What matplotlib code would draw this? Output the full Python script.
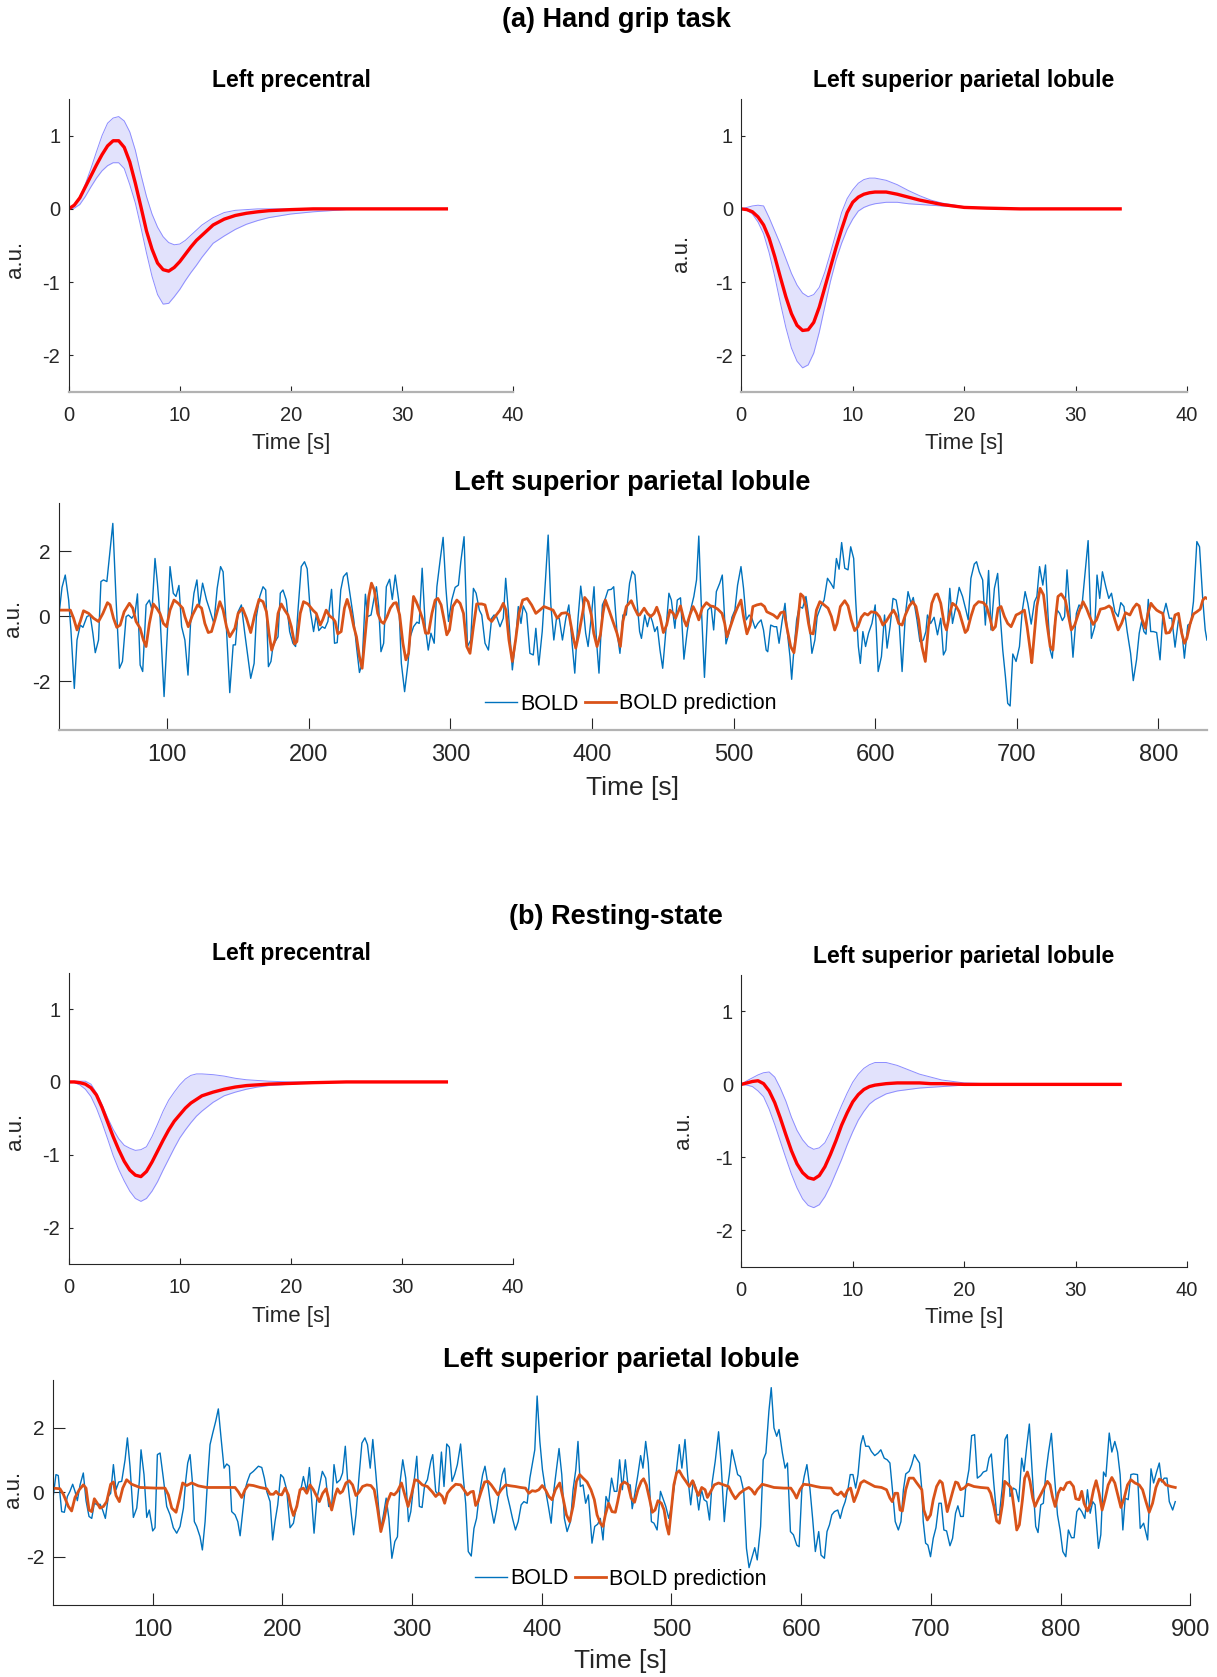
import matplotlib.pyplot as plt
import numpy as np

plt.rcParams['font.family'] = ['Liberation Sans', 'DejaVu Sans']
plt.rcParams['axes.unicode_minus'] = False

# ---- HRF estimates (mean and band) ----
t_hrf = [0, 0.5, 1, 1.5, 2, 2.5, 3, 3.5, 4, 4.5, 5, 5.5, 6, 6.5, 7, 7.5, 8, 8.5, 9, 9.5,
         10, 10.5, 11, 11.5, 12, 13, 14, 15, 16, 17, 18, 20, 22, 25, 30, 34]

grip_pre_mean = [0, 0.05, 0.15, 0.30, 0.45, 0.60, 0.74, 0.86, 0.93, 0.93, 0.84, 0.64, 0.35, 0.03,
                 -0.30, -0.55, -0.74, -0.83, -0.85, -0.80, -0.72, -0.62, -0.52, -0.43, -0.36,
                 -0.22, -0.14, -0.09, -0.06, -0.04, -0.025, -0.01, 0, 0, 0, 0]
grip_pre_hi = [0, 0.05, 0.16, 0.34, 0.55, 0.78, 1.00, 1.17, 1.24, 1.26, 1.20, 1.05, 0.80, 0.47,
               0.17, -0.07, -0.25, -0.38, -0.46, -0.49, -0.48, -0.43, -0.36, -0.29, -0.22,
               -0.12, -0.05, -0.02, -0.01, 0, 0, 0, 0, 0, 0, 0]
grip_pre_lo = [0, 0.01, 0.06, 0.17, 0.30, 0.42, 0.52, 0.59, 0.63, 0.63, 0.55, 0.33, 0.08, -0.25,
               -0.60, -0.92, -1.17, -1.30, -1.29, -1.20, -1.10, -0.98, -0.87, -0.77, -0.66,
               -0.47, -0.37, -0.28, -0.21, -0.16, -0.12, -0.07, -0.04, -0.01, 0, 0]

grip_spl_mean = [0, -0.01, -0.04, -0.11, -0.22, -0.40, -0.65, -0.93, -1.20, -1.43, -1.59, -1.66,
                 -1.65, -1.55, -1.34, -1.07, -0.80, -0.53, -0.28, -0.05, 0.09, 0.16, 0.20, 0.22,
                 0.23, 0.23, 0.20, 0.16, 0.12, 0.09, 0.06, 0.02, 0.01, 0, 0, 0]
grip_spl_hi = [0, 0.02, 0.04, 0.05, 0.04, -0.12, -0.30, -0.48, -0.68, -0.88, -1.04, -1.15, -1.20,
               -1.17, -1.07, -0.86, -0.60, -0.33, -0.05, 0.14, 0.26, 0.35, 0.40, 0.42, 0.42,
               0.39, 0.33, 0.25, 0.18, 0.12, 0.08, 0.03, 0.01, 0, 0, 0]
grip_spl_lo = [0, -0.02, -0.07, -0.18, -0.34, -0.60, -0.92, -1.28, -1.62, -1.90, -2.08, -2.17,
               -2.13, -1.97, -1.68, -1.33, -0.99, -0.70, -0.47, -0.28, -0.14, -0.03, 0.02, 0.05,
               0.07, 0.09, 0.09, 0.07, 0.06, 0.05, 0.04, 0.02, 0.01, 0, 0, 0]

rest_pre_mean = [0, 0, -0.01, -0.03, -0.08, -0.18, -0.35, -0.55, -0.75, -0.93, -1.09, -1.21,
                 -1.28, -1.30, -1.23, -1.10, -0.95, -0.80, -0.66, -0.54, -0.45, -0.36, -0.29,
                 -0.24, -0.19, -0.14, -0.10, -0.07, -0.05, -0.04, -0.03, -0.02, -0.01, 0, 0, 0]
rest_pre_hi = [0, 0.01, 0.01, 0.01, -0.03, -0.15, -0.31, -0.49, -0.65, -0.78, -0.87, -0.91,
               -0.94, -0.93, -0.89, -0.75, -0.58, -0.40, -0.25, -0.14, -0.04, 0.04, 0.09, 0.11,
               0.11, 0.10, 0.08, 0.05, 0.03, 0.02, 0.01, 0, 0, 0, 0, 0]
rest_pre_lo = [0, -0.01, -0.04, -0.10, -0.20, -0.36, -0.56, -0.78, -1.01, -1.20, -1.36, -1.50,
               -1.60, -1.64, -1.60, -1.50, -1.37, -1.21, -1.06, -0.91, -0.77, -0.66, -0.56,
               -0.47, -0.40, -0.28, -0.19, -0.14, -0.10, -0.07, -0.05, -0.03, -0.01, 0, 0, 0]

rest_spl_mean = [0, 0.02, 0.04, 0.05, 0.01, -0.09, -0.25, -0.46, -0.69, -0.91, -1.09, -1.21,
                 -1.28, -1.30, -1.25, -1.13, -0.96, -0.77, -0.56, -0.39, -0.24, -0.14, -0.07,
                 -0.03, -0.01, 0.01, 0.02, 0.02, 0.02, 0.01, 0.01, 0, 0, 0, 0, 0]
rest_spl_hi = [0, 0.05, 0.09, 0.13, 0.16, 0.17, 0.10, -0.05, -0.23, -0.45, -0.63, -0.76, -0.85,
               -0.89, -0.87, -0.80, -0.65, -0.47, -0.29, -0.12, 0.03, 0.14, 0.22, 0.27, 0.30,
               0.30, 0.26, 0.20, 0.14, 0.10, 0.06, 0.02, 0.01, 0, 0, 0]
rest_spl_lo = [0, -0.01, -0.03, -0.09, -0.17, -0.34, -0.55, -0.78, -1.01, -1.23, -1.42, -1.57,
               -1.66, -1.69, -1.65, -1.54, -1.39, -1.21, -1.03, -0.83, -0.65, -0.49, -0.37,
               -0.27, -0.21, -0.13, -0.09, -0.07, -0.05, -0.04, -0.03, -0.01, 0, 0, 0, 0]

# ---- BOLD time series, (time [s], a.u.) vertices ----
task_bold = [
    (23.2, -0.06), (25.6, 0.89), (27.9, 1.27), (30.3, 0.50), (31.9, -0.42), (34.3, -2.22),
    (36.2, -0.73), (38.5, -0.27), (40.4, -0.34), (43.2, -0.01), (45.5, 0.04), (47.4, -0.52),
    (49.1, -1.12), (51.4, -0.73), (53.1, 1.07), (54.9, 1.12), (57.3, 1.07), (59.6, 2.04),
    (61.5, 2.86), (63.8, 0.50), (66.2, -1.60), (68.3, -1.39), (70.9, -0.01), (72.5, 0.04),
    (74.9, -0.06), (77.2, 0.09), (78.9, 0.69), (80.8, -1.50), (82.6, -1.70), (85.0, 0.35),
    (87.3, 0.50), (89.2, 0.19), (91.3, 1.78), (93.0, 1.02), (94.8, 0.04), (97.7, -2.47),
    (100.0, -0.52), (101.9, 1.53), (104.2, 0.71), (106.1, 0.61), (108.2, 0.95), (110.1, -0.32),
    (112.4, -0.73), (114.6, -1.81), (116.4, -0.22), (118.8, 0.71), (120.9, 1.12), (122.5, 0.30),
    (124.9, 1.02), (127.7, 0.50), (130.0, 0.19), (132.9, -0.22), (135.2, 0.86), (137.6, 1.53),
    (139.4, 1.37), (141.8, -0.42), (144.1, -2.35), (146.5, -0.88), (148.1, -0.88), (150.0, 0.14),
    (152.3, 0.35), (154.7, -0.52), (157.0, -1.29), (158.9, -1.91), (161.3, -1.45), (162.9, -0.01),
    (165.3, 0.61), (167.6, 0.91), (169.5, 0.81), (171.4, -1.55), (173.2, -1.39), (174.6, -0.93),
    (176.1, -0.78), (178.2, -0.63), (179.8, 0.71), (181.7, 0.81), (184.0, 0.50), (186.4, -0.47),
    (188.7, -0.83), (190.6, -0.93), (192.3, 0.19), (194.6, 1.53), (196.9, 1.68), (198.8, 1.46),
    (200.9, 0.19), (203.3, -0.47), (205.2, 0.04), (207.0, -0.44), (209.4, -0.32), (211.3, -0.37),
    (213.4, -0.16), (216.0, 0.83), (218.1, -0.83), (220.0, -0.81), (222.5, 0.81), (224.4, 1.22),
    (226.8, 1.34), (229.3, 0.61), (231.7, -0.11), (233.6, -0.93), (235.7, -1.73), (237.6, -1.45),
    (239.9, 0.68), (241.5, -0.01), (243.9, 0.04), (245.8, 0.50), (247.7, 0.91), (249.3, 0.30),
    (250.9, -1.09), (252.8, -0.83), (254.7, 0.91), (257.0, 1.14), (258.9, 0.52), (261.0, 1.27),
    (263.4, 0.50), (265.3, -1.45), (267.6, -2.32), (270.0, -1.45), (271.6, -0.63), (273.9, -0.32),
    (276.3, -0.18), (277.9, -0.22), (280.0, 1.48), (282.2, -0.32), (284.3, -1.04), (286.2, -0.52),
    (288.5, -0.83), (290.4, 0.91), (292.7, 1.73), (294.8, 2.43), (296.7, 0.91), (298.6, -0.16),
    (300.9, 0.50), (303.3, 0.89), (305.6, 0.96), (307.3, 1.68), (309.6, 2.45), (312.0, -0.93),
    (314.3, -0.73), (316.2, 0.86), (318.1, 0.71), (320.4, 0.19), (322.1, 0.04), (324.4, -0.83),
    (326.8, -1.04), (329.1, -0.06), (330.8, 0.04), (332.6, -0.01), (335.0, -0.32), (337.3, -0.06),
    (339.0, 1.17), (340.8, 0.19), (343.7, -1.65), (346.0, -0.73), (347.9, 0.30), (349.8, -0.22),
    (351.4, 0.32), (353.8, 0.09), (356.1, -1.14), (358.5, -1.19), (360.3, -0.37), (362.4, -1.50),
    (364.8, -0.47), (367.1, 1.12), (369.0, 2.50), (370.9, 0.35), (373.0, -0.73), (374.9, -0.06),
    (376.8, -0.06), (379.1, -0.73), (381.5, -0.06), (383.6, 0.35), (385.9, -0.83), (387.8, -1.75),
    (390.1, -0.06), (392.0, 0.93), (393.7, 0.30), (395.5, -0.52), (397.2, -0.93), (399.5, -0.01),
    (401.4, 0.91), (403.1, -0.73), (404.9, -1.75), (407.3, 0.35), (409.4, 0.55), (411.3, 0.81),
    (413.6, 0.83), (415.3, 0.91), (417.6, -0.47), (419.7, -1.14), (421.8, 0.04), (424.2, 0.04),
    (426.5, 1.02), (428.4, 1.39), (430.3, 1.27), (431.7, 0.50), (433.6, -0.47), (434.9, -0.68),
    (437.2, 0.04), (439.1, -0.32), (441.0, 0.04), (442.6, -0.16), (444.3, -0.47), (446.1, -0.32),
    (448.0, -1.04), (449.9, -1.60), (452.0, -0.52), (454.3, 0.71), (456.0, 0.50), (458.5, -0.37),
    (460.2, 0.50), (462.5, 0.57), (464.9, -1.32), (467.2, -0.47), (469.6, 0.19), (471.9, 0.61),
    (473.8, 1.12), (475.4, 2.47), (477.3, 0.19), (479.4, -1.88), (481.7, 0.19), (484.1, 0.30),
    (485.9, -0.42), (487.8, 0.76), (490.2, 1.02), (492.0, 1.27), (494.6, -0.85), (496.7, -0.52),
    (498.8, -0.03), (500.9, 0.19), (502.8, 0.96), (505.2, 1.53), (507.0, 0.86), (508.9, -0.11),
    (511.0, 0.04), (512.9, -0.06), (515.2, -0.37), (517.1, -0.22), (519.4, -0.11), (521.1, -0.42),
    (523.0, -1.04), (524.1, -1.09), (526.2, -0.27), (528.6, -0.32), (530.4, -0.32), (532.1, -0.83),
    (534.2, -0.16), (536.3, 0.40), (537.9, -0.47), (539.8, -1.24), (541.0, -1.94), (542.2, -1.24),
    (544.5, -0.11), (546.4, 0.30), (548.7, 0.25), (551.1, 0.61), (553.2, -0.06), (555.3, -1.14),
    (557.4, -0.73), (559.0, -0.01), (561.6, 0.30), (563.9, 0.50), (566.3, 1.17), (568.6, 1.02),
    (570.7, 0.86), (572.6, 1.78), (574.5, 1.45), (576.3, 2.27), (578.5, 1.48), (580.8, 1.43),
    (582.7, 2.14), (584.8, 1.78), (586.2, 0.50), (588.1, -0.93), (589.5, -1.45), (591.3, -0.47),
    (593.2, -0.93), (595.3, -0.52), (597.7, -0.22), (600.0, 0.35), (602.1, -1.70), (604.4, -1.24),
    (606.6, 0.04), (608.4, -0.98), (610.5, -0.32), (612.6, 0.55), (614.8, 0.50), (616.6, 0.04),
    (619.0, -1.70), (621.3, 0.04), (623.2, 0.76), (625.3, 0.40), (626.9, 0.58), (629.5, -0.11),
    (631.6, -0.78), (634.0, -0.73), (635.8, -0.47), (636.9, 0.04), (639.2, -0.22), (641.6, -0.03),
    (644.0, -0.57), (646.3, -0.06), (648.2, -1.19), (649.9, -1.04), (652.7, 0.86), (654.6, -0.22),
    (657.0, 0.30), (659.3, 0.89), (661.7, 0.61), (664.1, 0.19), (665.7, -0.11), (667.6, 1.17),
    (670.0, 1.61), (671.6, 1.68), (673.5, 1.37), (675.9, 1.12), (677.8, -0.27), (680.1, 1.41),
    (681.8, -0.42), (684.2, 0.86), (686.5, 1.32), (688.2, 0.09), (690.1, -1.04), (692.0, -1.86),
    (693.6, -2.68), (695.3, -2.76), (697.2, -1.16), (699.5, -1.39), (701.9, -0.93), (703.8, 0.14),
    (705.9, 0.76), (707.8, 0.40), (710.2, -0.24), (712.5, 0.45), (714.2, 0.61), (716.1, 1.53),
    (718.4, 0.96), (720.3, 1.58), (722.0, 0.09), (723.6, -1.04), (725.1, -1.29), (726.7, -0.27),
    (728.6, 0.19), (730.3, 0.09), (732.2, -0.13), (733.8, -0.01), (735.5, 1.43), (737.4, 0.19),
    (739.7, -1.26), (742.1, 0.09), (744.0, 0.35), (745.9, 0.25), (748.0, 1.22), (750.4, 2.33),
    (752.7, -0.68), (755.1, -0.32), (756.7, 1.27), (758.6, 0.55), (760.5, 1.37), (762.9, 0.91),
    (765.0, 0.55), (766.9, 0.71), (769.3, 0.14), (771.6, -0.01), (773.5, 0.42), (775.7, 0.30),
    (778.0, -0.47), (780.4, -1.14), (782.3, -1.98), (784.6, -1.34), (786.5, -0.52), (788.2, -0.16),
    (789.8, -0.47), (791.3, -0.55), (792.9, 0.52), (794.6, -0.47), (796.5, -0.47), (798.8, -0.50),
    (801.2, -1.34), (803.1, -0.01), (805.4, 0.40), (807.8, -0.06), (809.5, -0.06), (811.8, -0.95),
    (814.2, -0.11), (816.5, -0.40), (818.4, -1.29), (820.8, -0.27), (822.9, -0.22), (824.8, 0.45),
    (827.2, 2.30), (829.1, 2.14), (831.4, 0.50), (833.1, -0.42), (834.3, -0.73)]

task_pred = [
    (23.2, 0.19), (31.5, 0.19), (33.8, -0.06), (36.2, -0.42), (38.5, -0.16), (40.8, 0.17),
    (44.4, 0.09), (47.9, -0.06), (51.4, -0.16), (54.5, 0.09), (57.7, 0.42), (59.6, 0.35),
    (62.0, -0.06), (64.3, -0.34), (66.7, -0.27), (69.5, 0.14), (73.2, 0.40), (75.6, 0.25),
    (77.9, -0.16), (80.8, -0.37), (83.1, -0.73), (85.0, -0.93), (87.3, -0.22), (90.1, 0.38),
    (92.5, 0.25), (94.8, 0.09), (97.2, -0.22), (99.5, -0.32), (101.9, 0.19), (104.7, 0.50),
    (107.7, 0.40), (110.8, 0.25), (112.4, -0.01), (114.8, -0.32), (117.8, 0.04), (121.4, 0.35),
    (124.2, 0.25), (126.5, -0.22), (128.9, -0.50), (131.2, -0.47), (133.6, -0.11), (137.1, 0.45),
    (139.4, 0.19), (141.8, -0.32), (144.1, -0.63), (147.7, -0.37), (150.0, 0.09), (153.1, 0.25),
    (155.9, -0.06), (158.9, -0.50), (161.7, 0.04), (164.8, 0.52), (167.6, 0.45), (170.0, 0.14),
    (171.8, -0.52), (173.7, -1.04), (176.1, -0.73), (178.2, 0.09), (180.5, 0.38), (182.9, 0.19),
    (185.2, 0.04), (187.6, -0.32), (189.9, -0.85), (191.5, -0.78), (193.9, 0.09), (196.2, 0.45),
    (199.3, 0.38), (202.8, 0.19), (205.2, 0.09), (208.0, -0.27), (209.9, -0.09), (212.2, 0.19),
    (214.6, 0.01), (216.9, -0.06), (218.5, -0.16), (220.4, -0.54), (222.8, -0.47), (225.1, 0.25),
    (227.0, 0.52), (229.3, 0.19), (231.7, -0.32), (233.6, -0.63), (235.7, -1.24), (237.6, -1.60),
    (239.9, -0.52), (242.3, 0.61), (244.2, 1.02), (246.2, 0.81), (248.6, 0.09), (250.9, -0.16),
    (252.8, -0.22), (255.2, -0.01), (257.5, 0.25), (259.9, 0.40), (261.7, 0.42), (264.1, 0.04),
    (266.4, -0.83), (268.5, -1.34), (270.4, -1.14), (272.1, -0.22), (273.9, 0.61), (275.8, 0.45),
    (278.2, 0.19), (280.5, -0.11), (282.4, -0.52), (284.5, -0.52), (286.9, 0.09), (289.2, 0.50),
    (291.1, 0.55), (293.4, 0.35), (295.5, -0.11), (297.4, -0.57), (299.3, -0.42), (301.6, 0.30),
    (304.5, 0.50), (306.8, 0.40), (309.2, 0.09), (311.5, -0.93), (313.8, -1.14), (316.2, -0.32),
    (318.5, 0.38), (322.1, 0.38), (324.4, 0.35), (326.8, -0.06), (329.1, -0.16), (331.5, -0.01),
    (335.0, 0.19), (337.3, 0.40), (339.2, 0.19), (341.3, -0.73), (343.7, -1.39), (346.0, -0.73),
    (348.4, 0.09), (351.0, 0.50), (354.2, 0.55), (357.3, 0.35), (360.3, 0.09), (363.1, 0.19),
    (366.0, 0.30), (369.0, 0.25), (372.5, 0.19), (375.4, -0.06), (378.4, 0.09), (381.5, 0.11),
    (383.8, 0.04), (386.6, -0.63), (388.5, -0.98), (390.8, -0.52), (393.7, 0.19), (394.8, 0.58),
    (397.2, 0.45), (399.5, 0.04), (401.2, -0.52), (403.5, -0.93), (405.9, -0.57), (407.7, 0.09),
    (409.4, 0.50), (412.0, 0.19), (414.8, -0.16), (417.6, -0.52), (420.0, -0.93), (421.8, -0.16),
    (424.2, 0.30), (427.7, 0.48), (430.0, 0.25), (432.4, 0.04), (433.6, 0.04), (436.8, 0.25),
    (439.1, 0.09), (441.5, -0.01), (443.8, 0.09), (445.7, 0.28), (448.0, -0.01), (450.4, -0.50),
    (452.7, -0.27), (455.0, 0.19), (457.4, 0.09), (459.0, -0.06), (462.5, 0.32), (464.9, -0.11),
    (466.7, -0.30), (469.1, 0.04), (471.4, 0.30), (473.8, 0.09), (475.4, -0.11), (477.8, 0.25),
    (480.8, 0.42), (483.6, 0.32), (485.9, 0.30), (488.8, 0.22), (491.8, 0.09), (493.7, -0.22),
    (495.3, -0.63), (497.7, -0.32), (500.5, 0.04), (502.8, 0.28), (505.2, 0.50), (507.0, -0.01),
    (509.4, -0.54), (511.7, -0.27), (513.6, 0.30), (516.4, 0.35), (519.4, 0.38), (521.8, 0.30),
    (523.4, 0.14), (525.8, 0.09), (528.1, 0.04), (530.9, -0.06), (533.3, 0.11), (535.6, 0.14),
    (537.5, -0.32), (540.3, -0.93), (542.6, -1.12), (545.0, -0.32), (547.3, 0.69), (549.2, 0.61),
    (551.1, 0.30), (552.9, -0.22), (554.3, -0.52), (556.2, -0.54), (558.5, 0.19), (560.9, 0.45),
    (563.9, 0.35), (566.7, 0.25), (569.1, -0.01), (571.4, -0.42), (573.1, -0.22), (575.4, 0.30),
    (578.5, 0.48), (580.8, 0.32), (583.1, -0.11), (585.5, -0.44), (587.8, -0.32), (590.2, -0.03),
    (592.5, 0.09), (594.8, 0.04), (597.2, 0.14), (600.7, 0.11), (603.0, -0.01), (605.4, -0.27),
    (607.7, -0.16), (610.5, 0.04), (612.9, 0.19), (614.8, 0.04), (616.6, -0.22), (619.0, -0.27),
    (621.3, 0.04), (624.1, 0.32), (626.5, 0.45), (628.8, 0.30), (630.7, -0.11), (633.0, -0.93),
    (635.4, -1.39), (637.6, -0.32), (640.0, 0.40), (642.3, 0.66), (644.0, 0.69), (646.3, 0.40),
    (648.7, -0.22), (650.4, -0.42), (652.7, 0.09), (654.6, 0.40), (657.0, 0.32), (659.3, 0.14),
    (661.7, -0.22), (663.6, -0.50), (665.2, -0.42), (667.6, -0.01), (670.0, 0.32), (673.0, 0.45),
    (676.4, 0.42), (678.7, 0.30), (681.1, -0.06), (683.0, -0.42), (684.9, -0.32), (686.8, 0.25),
    (688.9, 0.30), (691.3, -0.01), (693.6, -0.22), (696.0, -0.32), (697.6, -0.16), (699.5, 0.04),
    (701.9, 0.09), (705.4, 0.19), (707.3, -0.32), (709.5, -1.04), (710.6, -1.43), (712.5, -0.52),
    (714.2, 0.30), (716.5, 0.86), (718.9, 0.66), (721.3, -0.22), (723.6, -0.93), (725.5, -1.04),
    (727.4, -0.06), (729.1, 0.61), (731.4, 0.69), (734.3, 0.50), (736.6, -0.01), (738.5, -0.42),
    (740.9, -0.27), (744.0, 0.14), (746.8, 0.45), (749.2, 0.25), (751.5, -0.01), (753.9, -0.25),
    (756.3, -0.11), (759.1, 0.22), (762.2, 0.25), (765.2, 0.32), (766.9, 0.25), (769.3, -0.11),
    (771.6, -0.42), (774.0, -0.22), (776.8, 0.11), (779.9, 0.04), (782.3, 0.25), (784.6, 0.38),
    (786.5, 0.32), (788.2, -0.06), (790.8, -0.37), (792.7, 0.09), (794.8, 0.40), (796.5, 0.30),
    (798.8, 0.19), (800.7, 0.14), (803.1, 0.09), (805.4, -0.52), (807.8, -0.50), (809.9, -0.32),
    (811.8, 0.04), (814.2, 0.09), (816.5, -0.52), (818.4, -0.83), (820.1, -0.68), (822.5, -0.22),
    (824.8, 0.07), (827.2, 0.14), (829.6, 0.22), (831.4, 0.50), (833.1, 0.58), (834.3, 0.55)]

rest_bold = [
    (22.9, -0.26), (25.4, 0.55), (27.2, 0.52), (29.8, -0.60), (31.9, -0.62), (34.2, -0.13),
    (36.2, 0.03), (38.3, 0.25), (40.1, 0.03), (41.9, -0.26), (44.0, 0.23), (46.5, 0.60),
    (48.6, -0.26), (50.9, -0.75), (53.0, -0.81), (55.0, -0.34), (57.3, -0.39), (59.4, -0.37),
    (61.4, -0.55), (63.5, -0.81), (65.8, -0.13), (67.6, -0.03), (69.7, 0.86), (71.7, 0.08),
    (73.8, 0.32), (76.1, 0.34), (78.7, 1.01), (80.5, 1.69), (82.5, 0.81), (85.1, -0.78),
    (87.7, -0.49), (89.7, 0.34), (91.0, 1.32), (93.3, 0.55), (95.4, -0.78), (97.4, -0.55),
    (100.0, -1.20), (101.8, -1.10), (103.6, 1.17), (105.7, 1.22), (108.2, 0.44), (110.8, -0.44),
    (113.4, -0.70), (115.9, -1.10), (118.5, -1.27), (121.1, -1.06), (123.7, -0.49), (125.4, 0.34),
    (127.0, 0.91), (128.8, 1.17), (130.8, 0.23), (132.1, -0.91), (133.9, -1.06), (136.5, -1.38),
    (138.3, -1.79), (140.4, -0.91), (142.4, 0.44), (144.2, 1.48), (146.3, 1.84), (148.6, 2.21),
    (150.6, 2.59), (152.7, 1.69), (155.0, 0.75), (157.1, 0.88), (159.1, 0.81), (160.9, -0.60),
    (163.5, -0.70), (165.6, -0.91), (167.4, -1.35), (169.4, -0.60), (171.2, 0.08), (173.0, 0.34),
    (175.1, 0.57), (177.6, 0.65), (181.5, 0.81), (184.1, 0.77), (186.1, 0.44), (187.9, 0.03),
    (190.5, -0.29), (192.5, -1.48), (194.3, -0.91), (196.4, -0.39), (198.7, 0.55), (200.8, 0.46),
    (203.3, 0.08), (205.9, -1.10), (208.5, -0.96), (210.3, -0.55), (212.3, -0.13), (214.7, 0.18),
    (216.2, 0.49), (218.8, 0.03), (220.8, 0.77), (222.6, -0.23), (224.4, -1.27), (226.5, -0.23),
    (228.5, 0.18), (230.8, 0.65), (233.4, 0.44), (235.7, -0.44), (238.0, -0.44), (239.8, 0.86),
    (241.9, 0.29), (244.5, 0.39), (246.4, 0.60), (248.5, 1.43), (250.3, 0.34), (252.3, -0.39),
    (254.9, -1.32), (256.7, -0.70), (259.2, 0.55), (261.3, 1.53), (263.6, 1.69), (265.6, 1.48),
    (267.7, 0.75), (269.7, 1.64), (272.1, 0.55), (274.1, -0.44), (275.9, -1.12), (277.9, -0.70),
    (280.0, -0.18), (282.1, -0.81), (284.4, -2.05), (286.7, -1.53), (288.7, -1.38), (290.8, 0.34),
    (292.8, 1.01), (295.1, 0.44), (297.2, -0.91), (299.0, -0.60), (301.5, 0.34), (303.6, 1.12),
    (305.6, -0.44), (307.7, -0.47), (309.7, 0.23), (311.8, 0.39), (314.4, 0.96), (315.9, 1.17),
    (318.2, 0.03), (320.3, -0.08), (322.6, 1.25), (324.6, 0.18), (326.7, 1.50), (328.7, 1.40),
    (330.8, 0.34), (332.8, 0.55), (334.9, 0.86), (337.4, 1.50), (339.5, 0.44), (341.3, -0.34),
    (343.3, -1.84), (345.6, -1.98), (347.7, -1.12), (349.7, -0.81), (351.8, -0.08), (354.4, 0.55),
    (356.2, 0.81), (358.5, 0.23), (360.5, -0.39), (363.1, -0.96), (365.1, -0.55), (367.7, 0.13),
    (369.5, 0.55), (371.3, 0.75), (373.3, -0.08), (375.4, -0.44), (377.4, -0.81), (379.7, -1.17),
    (381.8, -0.91), (384.1, -0.39), (386.2, -0.29), (388.7, -0.34), (390.8, 0.44), (392.8, 0.91),
    (394.6, 1.32), (396.4, 2.99), (398.5, 1.58), (400.5, 0.70), (402.8, 0.08), (405.1, -0.44),
    (407.2, -0.96), (409.2, 0.03), (411.3, 0.70), (413.3, 1.36), (415.4, 0.55), (417.4, -0.81),
    (419.5, -1.22), (422.1, -0.91), (424.1, 0.08), (426.2, 0.70), (427.9, 1.58), (429.7, 0.18),
    (431.8, 0.23), (433.8, -0.34), (435.9, -0.08), (438.7, -1.58), (440.8, -1.06), (443.1, -0.99),
    (445.1, -0.81), (447.2, -1.48), (449.5, -0.13), (451.5, -0.34), (453.8, 0.44), (455.9, 0.03),
    (457.9, 0.03), (460.0, 1.01), (462.1, 0.08), (464.4, 1.01), (466.4, 0.23), (468.2, 0.23),
    (469.7, -0.51), (471.8, -0.03), (474.1, 0.55), (476.2, 1.14), (478.0, 0.75), (480.1, 1.58),
    (482.1, 0.91), (484.5, -0.91), (486.5, -0.96), (488.9, -1.17), (491.5, 0.03), (493.5, -0.20),
    (495.6, -0.44), (497.9, -0.81), (500.0, -0.44), (502.1, 0.18), (503.9, 0.70), (506.0, 1.48),
    (508.0, 0.75), (510.4, 1.64), (512.4, 0.55), (514.8, -0.39), (516.8, 0.36), (518.9, 0.13),
    (521.0, -0.55), (523.1, 0.08), (525.1, -0.23), (527.2, -0.29), (529.3, -0.86), (531.3, 0.29),
    (533.7, 0.96), (536.3, 1.88), (538.3, 0.86), (540.7, -0.91), (542.7, 0.03), (544.6, 0.55),
    (546.6, 1.32), (548.7, 0.96), (551.0, 0.55), (553.1, 0.49), (555.7, 0.03), (557.8, -1.74),
    (559.8, -2.34), (562.2, -2.00), (564.2, -1.72), (566.1, -2.10), (568.7, -1.06), (570.7, 1.01),
    (572.8, 1.22), (575.1, 2.52), (576.9, 3.25), (579.0, 2.00), (581.1, 1.74), (582.9, 1.95),
    (585.5, 1.22), (587.6, 0.75), (589.4, 0.91), (591.7, -1.22), (594.0, -1.32), (596.6, -1.64),
    (598.4, -1.69), (600.5, 0.08), (602.3, 0.49), (604.4, 0.86), (606.7, 0.13), (608.8, -0.81),
    (610.9, -1.84), (613.5, -1.22), (615.3, -1.95), (617.9, -2.05), (619.9, -1.22), (621.8, -1.01),
    (623.6, -0.70), (625.6, -0.60), (628.2, -0.55), (630.1, -0.81), (632.1, -0.49), (633.9, -0.29),
    (636.0, 0.08), (637.8, 0.55), (639.9, 0.55), (642.0, 0.13), (643.8, 0.55), (645.9, 1.48),
    (647.7, 1.76), (649.7, 1.43), (652.1, 1.43), (654.1, 1.27), (656.7, 1.14), (659.3, 1.22),
    (661.4, 1.32), (664.0, 1.06), (666.3, 1.01), (668.4, 0.91), (670.5, 0.01), (672.5, -0.91),
    (674.9, -1.17), (676.9, -0.91), (678.8, 0.08), (680.6, 0.57), (683.2, 0.65), (685.2, 0.86),
    (687.3, 1.17), (689.1, 1.04), (691.2, 0.91), (693.0, 0.08), (694.1, -0.91), (695.9, -1.58),
    (697.7, -1.64), (699.7, -2.00), (701.8, -1.43), (703.9, -1.10), (706.2, -0.34), (708.0, -0.34),
    (710.0, -1.17), (712.1, -1.20), (714.7, -1.66), (716.7, -1.43), (719.0, -0.65), (720.8, -0.42),
    (722.9, -0.75), (725.0, -0.75), (726.8, 0.13), (729.3, 0.70), (731.4, 1.76), (733.7, 1.79),
    (735.8, 0.44), (738.4, 0.52), (740.4, 0.63), (743.0, 0.67), (744.8, 1.06), (746.6, 1.19),
    (748.6, 0.23), (750.7, -0.70), (752.8, -0.70), (755.1, 0.18), (757.1, 1.64), (758.9, 1.79),
    (761.0, -0.13), (763.6, 0.13), (765.6, 0.08), (767.7, -0.29), (770.0, 1.06), (771.8, 0.65),
    (773.9, 1.43), (775.9, 2.12), (778.2, 0.55), (780.8, -1.06), (782.6, -1.25), (784.7, -0.39),
    (786.7, -0.34), (788.5, 0.55), (790.6, 1.22), (792.9, 1.83), (795.0, 0.65), (797.6, -0.70),
    (799.6, -1.17), (801.7, -1.84), (804.0, -2.00), (806.0, -1.17), (808.4, -1.41), (810.4, -1.41),
    (812.5, -0.60), (814.3, -0.49), (816.3, -0.60), (818.7, -0.81), (820.7, 0.08), (822.8, -0.65),
    (824.8, -0.29), (826.6, -0.39), (829.2, -1.74), (831.0, -1.32), (833.1, 0.63), (834.9, 0.49),
    (837.5, 1.84), (839.5, 1.25), (841.8, 1.58), (843.9, 1.25), (845.9, 0.55), (848.0, -1.17),
    (849.8, -0.18), (852.1, -0.23), (854.2, 0.55), (856.2, 0.57), (859.3, 0.55), (861.4, -1.12),
    (864.0, -0.96), (867.1, -1.48), (869.7, 0.73), (871.7, 0.29), (874.0, 0.63), (876.1, 0.91),
    (877.9, 0.32), (879.9, 0.44), (882.0, 0.44), (883.8, -0.29), (886.4, -0.55), (888.4, -0.29)]

rest_pred = [
    (22.9, 0.13), (28.5, 0.11), (31.1, -0.06), (35.0, -0.44), (37.5, -0.58), (40.1, -0.16),
    (43.4, 0.08), (46.5, 0.23), (48.6, 0.13), (50.9, -0.55), (53.0, -0.60), (55.0, -0.20),
    (57.3, -0.34), (59.4, -0.49), (62.0, -0.44), (64.5, -0.29), (67.6, 0.25), (69.7, 0.32),
    (71.7, -0.10), (74.3, -0.29), (76.9, 0.13), (79.9, 0.39), (83.8, 0.25), (90.2, 0.15),
    (103.1, 0.13), (109.5, 0.13), (112.1, -0.08), (114.7, -0.49), (118.0, -0.62), (120.6, -0.18),
    (123.1, 0.29), (126.2, 0.21), (130.1, 0.29), (135.2, 0.20), (141.6, 0.15), (154.5, 0.15),
    (163.5, 0.15), (166.1, 0.01), (168.6, -0.16), (171.2, 0.08), (173.8, 0.23), (177.6, 0.21),
    (182.8, 0.15), (187.9, 0.11), (190.5, -0.06), (193.1, -0.06), (195.1, 0.03), (196.9, -0.06),
    (199.5, -0.08), (202.1, 0.13), (204.6, -0.08), (206.4, -0.44), (208.5, -0.72), (211.1, -0.44),
    (213.6, 0.08), (216.2, 0.13), (218.8, -0.03), (221.3, 0.23), (223.9, 0.08), (226.5, -0.13),
    (228.5, -0.29), (231.1, -0.03), (233.7, 0.11), (236.2, -0.29), (238.0, -0.55), (240.6, -0.10),
    (242.4, 0.11), (244.5, -0.03), (246.4, 0.03), (249.0, 0.29), (251.5, 0.36), (254.1, 0.23),
    (256.7, -0.10), (259.2, 0.01), (261.8, 0.18), (265.1, 0.23), (268.2, 0.21), (270.8, 0.08),
    (273.3, -0.49), (275.9, -1.22), (278.5, -0.81), (281.0, -0.29), (283.6, -0.03), (286.2, -0.08),
    (288.7, 0.03), (291.8, 0.29), (294.4, -0.08), (296.9, -0.44), (299.5, -0.08), (302.1, 0.39),
    (304.6, 0.36), (307.9, 0.23), (311.8, 0.18), (315.6, 0.01), (318.2, -0.13), (320.8, -0.03),
    (323.3, -0.13), (325.1, -0.34), (327.2, -0.03), (330.3, 0.13), (333.6, 0.25), (337.4, 0.23),
    (340.0, 0.08), (342.6, -0.08), (345.1, 0.01), (347.2, 0.03), (349.0, -0.41), (350.8, -0.29),
    (353.3, 0.03), (355.9, 0.32), (358.5, 0.34), (361.0, 0.23), (363.6, 0.08), (366.2, -0.08),
    (368.7, 0.08), (372.1, 0.23), (375.9, 0.20), (379.7, 0.18), (383.6, 0.15), (387.4, 0.13),
    (390.0, -0.03), (392.6, 0.05), (395.1, 0.03), (397.7, 0.08), (400.3, 0.21), (402.8, 0.08),
    (405.4, -0.13), (407.9, -0.23), (410.5, 0.08), (413.8, 0.29), (416.4, -0.18), (419.0, -0.70),
    (421.5, -0.91), (424.1, -0.44), (426.7, 0.34), (429.2, 0.55), (431.8, 0.44), (434.9, 0.32),
    (437.9, 0.08), (440.5, -0.23), (442.6, -0.70), (445.1, -0.96), (447.2, -1.06), (449.0, -0.70),
    (451.5, -0.34), (454.1, -0.60), (456.7, -0.62), (458.5, -0.29), (461.0, 0.23), (463.6, 0.32),
    (466.4, 0.25), (468.9, -0.18), (471.5, -0.31), (474.1, 0.08), (476.7, 0.34), (478.5, 0.42),
    (480.6, 0.23), (483.2, -0.23), (485.2, -0.62), (487.3, -0.55), (489.6, -0.26), (492.2, -0.34),
    (494.3, -0.55), (496.1, -1.01), (497.9, -1.30), (500.0, -0.49), (501.8, 0.23), (503.9, 0.60),
    (506.0, 0.67), (508.5, 0.49), (511.1, 0.34), (513.7, 0.18), (516.3, 0.36), (518.9, 0.08),
    (520.7, -0.10), (523.3, 0.15), (525.9, 0.08), (527.7, -0.16), (530.3, 0.03), (532.9, 0.23),
    (536.3, 0.29), (540.2, 0.23), (544.0, 0.18), (546.6, -0.03), (549.2, -0.20), (552.6, -0.03),
    (556.2, 0.08), (559.6, 0.15), (561.7, 0.08), (564.2, -0.06), (566.1, 0.08), (569.9, 0.25),
    (573.8, 0.21), (579.0, 0.15), (586.8, 0.13), (592.0, 0.13), (594.6, -0.03), (596.4, -0.18),
    (599.0, 0.08), (601.8, 0.25), (606.2, 0.23), (611.4, 0.18), (615.3, 0.15), (623.1, 0.13),
    (625.6, -0.03), (628.2, -0.08), (630.8, 0.01), (633.4, -0.13), (636.0, 0.08), (638.1, 0.13),
    (640.7, -0.29), (643.3, -0.03), (645.9, 0.29), (648.4, 0.36), (651.6, 0.29), (656.7, 0.18),
    (661.9, 0.15), (665.8, 0.08), (668.4, -0.18), (670.2, -0.29), (672.3, -0.03), (674.4, -0.03),
    (676.2, -0.55), (678.0, -0.58), (680.6, 0.08), (683.2, 0.44), (686.5, 0.44), (689.1, 0.29),
    (693.0, 0.08), (694.6, -0.55), (697.2, -0.86), (699.7, -0.70), (701.8, -0.23), (704.4, 0.18),
    (706.9, 0.36), (708.8, 0.29), (710.6, -0.13), (712.6, -0.60), (714.7, -0.29), (717.2, 0.08),
    (719.0, 0.32), (720.8, 0.29), (722.9, 0.08), (725.5, 0.13), (728.6, 0.25), (733.2, 0.18),
    (738.4, 0.15), (744.0, 0.13), (746.1, -0.03), (748.6, -0.44), (750.7, -0.89), (752.8, -0.96),
    (755.1, -0.39), (756.9, 0.34), (759.5, 0.25), (762.0, 0.13), (764.1, -0.49), (766.2, -1.17),
    (768.2, -1.01), (770.5, -0.26), (772.3, 0.44), (774.4, 0.63), (776.4, 0.34), (778.5, -0.18),
    (780.3, -0.44), (782.6, -0.23), (785.2, -0.03), (787.8, 0.18), (789.8, 0.34), (791.9, 0.23),
    (793.7, -0.13), (795.8, -0.44), (798.1, -0.03), (800.1, 0.13), (802.2, 0.08), (804.8, 0.29),
    (807.3, 0.32), (809.9, 0.18), (811.7, -0.20), (814.3, -0.23), (816.3, 0.03), (818.1, -0.34),
    (820.7, -0.58), (823.3, -0.34), (825.4, 0.08), (827.4, 0.36), (829.7, -0.03), (832.0, -0.55),
    (834.4, -0.18), (836.7, 0.23), (839.5, 0.46), (841.8, 0.29), (844.4, -0.13), (846.5, -0.47),
    (849.0, -0.18), (851.6, 0.23), (854.2, 0.39), (857.3, 0.29), (860.6, 0.23), (863.2, 0.08),
    (865.8, -0.29), (868.3, -0.62), (870.9, -0.34), (873.5, 0.15), (876.1, 0.41), (878.6, 0.36),
    (881.2, 0.23), (885.1, 0.18), (888.4, 0.15)]

# ---- figure ----
W, H = 1217, 1677
fig = plt.figure(figsize=(W / 100, H / 100), dpi=100)
DARK = '#262626'
BAND_FILL = '#e2e2fc'
BAND_EDGE = '#8c8cff'
BLUE = '#0072bd'
ORANGE = '#d95319'


def px_axes(left, top, right, bottom):
    return fig.add_axes([left / W, 1 - bottom / H, (right - left) / W, (bottom - top) / H])


def px_text(x, y, s, **kw):
    fig.text(x / W, 1 - y / H, s, ha='center', va='center', color=kw.pop('color', 'black'), **kw)


def style_axes(ax, grey_xaxis, ticklen, xsize, ysize, xpad, ypad):
    for side in ['top', 'right']:
        ax.spines[side].set_visible(False)
    ax.spines['left'].set_color(DARK)
    ax.spines['left'].set_linewidth(0.8)
    if grey_xaxis:
        ax.spines['bottom'].set_color('#b2b2b2')
        ax.spines['bottom'].set_linewidth(1.6)
    else:
        ax.spines['bottom'].set_color(DARK)
        ax.spines['bottom'].set_linewidth(0.8)
    ax.tick_params(axis='x', direction='in', length=ticklen[0], width=0.8, color=DARK,
                   labelsize=xsize, labelcolor=DARK, pad=xpad)
    ax.tick_params(axis='y', direction='in', length=ticklen[1], width=0.8, color=DARK,
                   labelsize=ysize, labelcolor=DARK, pad=ypad)


def hrf_panel(rect, mean, lo, hi, grey_xaxis):
    ax = px_axes(*rect)
    ax.fill_between(t_hrf, lo, hi, color=BAND_FILL, lw=0)
    ax.plot(t_hrf, hi, color=BAND_EDGE, lw=0.7)
    ax.plot(t_hrf, lo, color=BAND_EDGE, lw=0.7)
    ax.plot(t_hrf, mean, color='red', lw=2.4)
    ax.set_xlim(0, 40)
    ax.set_ylim(-2.5, 1.5)
    ax.set_xticks([0, 10, 20, 30, 40])
    ax.set_yticks([-2, -1, 0, 1])
    style_axes(ax, grey_xaxis, (4.5, 3), 14.5, 14.5, 10, 6)
    return ax


def bold_panel(rect, bold, pred, xmax, xticks, grey_xaxis, legend_xy):
    ax = px_axes(*rect)
    tb, vb = np.array(bold).T
    tp, vp = np.array(pred).T
    l1, = ax.plot(tb, vb, color=BLUE, lw=1.0)
    l2, = ax.plot(tp, vp, color=ORANGE, lw=2.0)
    ax.set_xlim(tb[0], xmax)
    ax.set_ylim(-3.5, 3.5)
    ax.set_xticks(xticks)
    ax.set_yticks([-2, 0, 2])
    style_axes(ax, grey_xaxis, (8.5, 8.5), 17, 15, 10, 6)
    fig.legend([l1, l2], ['BOLD', 'BOLD prediction'], loc='center', ncol=2, frameon=False,
               bbox_to_anchor=(legend_xy[0] / W, 1 - legend_xy[1] / H), fontsize=15.5,
               handlelength=1.45, handletextpad=0.15, columnspacing=0.3, borderpad=0)
    return ax


# (a) hand grip task
px_text(616, 20, '(a) Hand grip task', fontsize=19.5, fontweight='bold')
hrf_panel((68.7, 99, 513, 392), grip_pre_mean, grip_pre_lo, grip_pre_hi, True)
hrf_panel((741.3, 99, 1187, 392), grip_spl_mean, grip_spl_lo, grip_spl_hi, True)
px_text(291, 81, 'Left precentral', fontsize=16.5, fontweight='bold')
px_text(964, 81, 'Left superior parietal lobule', fontsize=16.5, fontweight='bold')
for x, y in [(291, 444), (964, 444)]:
    px_text(x, y, 'Time [s]', fontsize=16, color=DARK)
for x, y in [(16, 259), (682, 253)]:
    px_text(x, y, 'a.u.', fontsize=16, rotation=90, color=DARK)

bold_panel((58.6, 502.6, 1206.9, 730), task_bold, task_pred, 834.3,
           [100, 200, 300, 400, 500, 600, 700, 800], True, (631, 704))
px_text(632, 483, 'Left superior parietal lobule', fontsize=19.5, fontweight='bold')
px_text(632, 788, 'Time [s]', fontsize=19, color=DARK)
px_text(13, 618, 'a.u.', fontsize=16, rotation=90, color=DARK)

# (b) resting-state
px_text(616, 916.5, '(b) Resting-state', fontsize=19.5, fontweight='bold')
hrf_panel((68.7, 972.7, 513, 1264), rest_pre_mean, rest_pre_lo, rest_pre_hi, False)
hrf_panel((741.3, 975, 1187, 1266.7), rest_spl_mean, rest_spl_lo, rest_spl_hi, False)
px_text(291, 954, 'Left precentral', fontsize=16.5, fontweight='bold')
px_text(964, 956, 'Left superior parietal lobule', fontsize=16.5, fontweight='bold')
for x, y in [(291, 1316.5), (964, 1318)]:
    px_text(x, y, 'Time [s]', fontsize=16, color=DARK)
for x, y in [(16, 1131), (684, 1130)]:
    px_text(x, y, 'a.u.', fontsize=16, rotation=90, color=DARK)

bold_panel((52.7, 1379.6, 1190.3, 1605), rest_bold, rest_pred, 900,
           [100, 200, 300, 400, 500, 600, 700, 800, 900], False, (621, 1579))
px_text(621, 1360, 'Left superior parietal lobule', fontsize=19.5, fontweight='bold')
px_text(621, 1661, 'Time [s]', fontsize=19, color=DARK)
px_text(13, 1489, 'a.u.', fontsize=16, rotation=90, color=DARK)

fig.savefig('out.png', dpi=100)
